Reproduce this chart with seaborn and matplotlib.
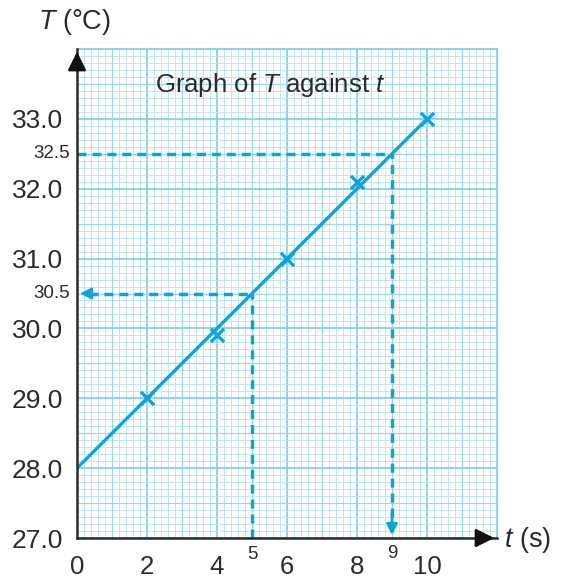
import numpy as np
import pandas as pd
import matplotlib
matplotlib.use('Agg')
import matplotlib.pyplot as plt
import seaborn as sns

# data
t_points = [2, 4, 6, 8, 10]
T_points = [29.0, 29.9, 31.0, 32.1, 33.0]
fit_t = [0, 10]
fit_T = [28.0, 33.0]
read1 = (5, 30.5)   # t -> T
read2 = (9, 32.5)   # T -> t
x_ticks = [0, 2, 4, 6, 8, 10]
y_ticks = [27.0, 28.0, 29.0, 30.0, 31.0, 32.0, 33.0]

sns.set_style('white')
plt.rcParams['font.family'] = ['Liberation Sans', 'DejaVu Sans']
plt.rcParams['mathtext.fontset'] = 'custom'
plt.rcParams['mathtext.it'] = 'Liberation Sans:italic'
plt.rcParams['mathtext.rm'] = 'Liberation Sans'

blue = '#0fa3dc'
dark = '#2b2b2b'

fig = plt.figure(figsize=(5.63, 5.78), dpi=100)
ax = fig.add_axes([0.1368, 0.0692, 0.746, 0.846])
ax.set_xlim(0, 12)
ax.set_ylim(27, 34)

# graph paper
ax.set_xticks(np.arange(0, 12.01, 0.2), minor=True)
ax.set_yticks(np.arange(27, 34.01, 0.1), minor=True)
ax.grid(which='minor', color='#b5e2f5', lw=0.6)
ax.vlines(np.arange(1, 12, 2), 27, 34, color='#9ad6f1', lw=0.9, zorder=0.6)
ax.hlines(np.arange(27.5, 34, 1), 0, 12, color='#9ad6f1', lw=0.9, zorder=0.6)
ax.set_xticks(x_ticks)
ax.set_yticks(y_ticks)
ax.grid(which='major', color='#7ecbee', lw=1.2)
ax.set_axisbelow(True)
ax.set_xticklabels([str(v) for v in x_ticks])
ax.set_yticklabels([f'{v:.1f}' for v in y_ticks])

for s in ['top', 'right']:
    ax.spines[s].set_color('#7ecbee')
    ax.spines[s].set_linewidth(1.2)
for s in ['left', 'bottom']:
    ax.spines[s].set_color(dark)
    ax.spines[s].set_linewidth(1.8)
    ax.spines[s].set_zorder(5)

ax.tick_params(which='major', direction='inout', length=12, width=1.5,
               color=dark, labelsize=19, labelcolor=dark, pad=4)
ax.tick_params(axis='x', which='major', pad=6, labelsize=18.5)
ax.tick_params(which='minor', length=0)

# fitted line and measured points
sns.lineplot(x=fit_t, y=fit_T, color=blue, lw=2.4, ax=ax, zorder=4)
sns.scatterplot(x=t_points, y=T_points, marker='x', s=90, color=blue,
                linewidth=2.4, ax=ax, zorder=4)

# reading lines
dash = (0, (2.6, 1.7))
lw_d = 2.5
ax.plot([0.35, read1[0]], [read1[1], read1[1]], color=blue, lw=lw_d, ls=dash)
ax.plot([read1[0], read1[0]], [27, read1[1]], color=blue, lw=lw_d, ls=dash)
ax.annotate('', xy=(0, read1[1]), xytext=(0.5, read1[1]),
            arrowprops=dict(arrowstyle='-|>', color=blue, lw=2, mutation_scale=16))
ax.plot([0, read2[0]], [read2[1], read2[1]], color=blue, lw=lw_d, ls=dash)
ax.plot([read2[0], read2[0]], [27.3, read2[1]], color=blue, lw=lw_d, ls=dash)
ax.annotate('', xy=(read2[0], 27), xytext=(read2[0], 27.4),
            arrowprops=dict(arrowstyle='-|>', color=blue, lw=2, mutation_scale=16))

# small reading labels
ax.text(-0.017, read2[1], '32.5', transform=ax.get_yaxis_transform(),
        ha='right', va='center', fontsize=13.5, color=dark)
ax.text(-0.017, read1[1], '30.5', transform=ax.get_yaxis_transform(),
        ha='right', va='center', fontsize=13.5, color=dark)
ax.text(read1[0], -0.033, '5', transform=ax.get_xaxis_transform(),
        ha='center', va='center', fontsize=13.5, color=dark)
ax.text(read2[0], -0.031, '9', transform=ax.get_xaxis_transform(),
        ha='center', va='center', fontsize=13.5, color=dark)

# axis arrowheads
ax.annotate('', xy=(0, 1.0), xytext=(0, 0.95), xycoords='axes fraction',
            arrowprops=dict(arrowstyle='-|>', color='#111111', lw=1.8,
                            mutation_scale=28), zorder=6)
ax.annotate('', xy=(1.0, 0), xytext=(0.95, 0), xycoords='axes fraction',
            arrowprops=dict(arrowstyle='-|>', color='#111111', lw=1.8,
                            mutation_scale=28), zorder=6)

ax.text(0.186, 0.926, r'Graph of $T$ against $t$', transform=ax.transAxes,
        ha='left', va='center', fontsize=18.5, color=dark)
fig.text(38 / 563, 1 - 22 / 578, r'$T$ (°C)', ha='left', va='center',
         fontsize=19.5, color=dark)
fig.text(504 / 563, 1 - 540 / 578, r'$t$ (s)', ha='left', va='center',
         fontsize=19.5, color=dark)

fig.savefig('out.png', dpi=100)
